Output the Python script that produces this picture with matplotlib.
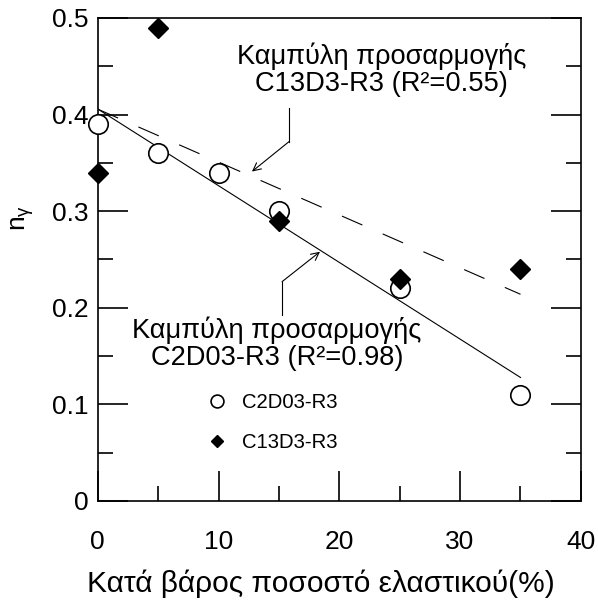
import numpy as np
import matplotlib
matplotlib.use("Agg")
import matplotlib.pyplot as plt

plt.rcParams["font.family"] = ["Liberation Sans", "DejaVu Sans"]
plt.rcParams["mathtext.fontset"] = "custom"
plt.rcParams["mathtext.rm"] = "Liberation Sans"
plt.rcParams["mathtext.it"] = "Liberation Sans"
plt.rcParams["lines.scale_dashes"] = False

# Rubber content (% by weight) and measured n_gamma
x_c2d03 = [0, 5, 10, 15, 25, 35]
n_c2d03 = [0.39, 0.36, 0.34, 0.30, 0.22, 0.11]
x_c13d3 = [0, 5, 15, 25, 35]
n_c13d3 = [0.34, 0.49, 0.29, 0.23, 0.24]

label_c2d03 = "C2D03-R3"
label_c13d3 = "C13D3-R3"
fit_text_c2d03 = "Καμπύλη προσαρμογής\nC2D03-R3 (R²=0.98)"
fit_text_c13d3 = "Καμπύλη προσαρμογής\nC13D3-R3 (R²=0.55)"
xlabel = "Κατά βάρος ποσοστό ελαστικού(%)"
ylabel = r"$\mathregular{n_γ}$"
x_ticks = [0, 10, 20, 30, 40]
y_ticks = [0, 0.1, 0.2, 0.3, 0.4, 0.5]
y_tick_labels = ["0", "0.1", "0.2", "0.3", "0.4", "0.5"]

fig = plt.figure(figsize=(5.98, 6.08), dpi=100)
ax = fig.add_axes([0.1634, 0.176, 0.808, 0.7945])

# Linear fits
p1 = np.polyfit(x_c2d03, n_c2d03, 1)
p2 = np.polyfit(x_c13d3, n_c13d3, 1)
xf = np.array([0, 35])
ax.plot(xf, np.polyval(p1, xf), color="black", lw=0.8, zorder=2)
ax.plot(xf, np.polyval(p2, xf), color="black", lw=0.8, dashes=(16, 16), zorder=2)

ax.plot(x_c2d03, n_c2d03, "o", ms=14, mfc="white", mec="black", mew=1.2,
        label=label_c2d03, zorder=3, clip_on=False)
ax.plot(x_c13d3, n_c13d3, "D", ms=10, mfc="black", mec="black",
        label=label_c13d3, zorder=4, clip_on=False)

# Fit annotations with bent leader arrows
arrow = dict(arrowstyle="->", color="black", lw=0.8, shrinkA=0, shrinkB=0,
             mutation_scale=14)
ax.plot([15.84, 15.84], [0.407, 0.372], color="black", lw=0.8)
ax.annotate("", xy=(12.77, 0.341), xytext=(15.84, 0.372), arrowprops=arrow)
ax.text(23.5, 0.446, fit_text_c13d3, ha="center", va="center", fontsize=19.6,
        linespacing=1.05)

ax.plot([15.26, 15.26], [0.193, 0.227], color="black", lw=0.8)
ax.annotate("", xy=(18.4, 0.258), xytext=(15.26, 0.227), arrowprops=arrow)
ax.text(14.85, 0.1625, fit_text_c2d03, ha="center", va="center", fontsize=19.6,
        linespacing=1.05)

leg = ax.legend(loc="center left", bbox_to_anchor=(0.19, 0.162), frameon=False,
                fontsize=14.6, markerscale=0.66, handlelength=0.9,
                handletextpad=0.8, labelspacing=1.05, numpoints=1)

ax.set_xlim(0, 40)
ax.set_ylim(0, 0.5)
ax.set_xticks(x_ticks)
ax.set_xticks(np.arange(5, 40, 10), minor=True)
ax.set_yticks(y_ticks)
ax.set_yticklabels(y_tick_labels)
ax.set_yticks(np.arange(0.05, 0.5, 0.1), minor=True)
ax.tick_params(which="both", direction="in", top=False, right=True, width=1.2,
               labelsize=19)
ax.tick_params(which="major", length=21.5)
ax.tick_params(which="minor", length=10.8)
ax.tick_params(axis="x", which="major", pad=21)
ax.tick_params(axis="y", which="major", pad=6.5)
for s in ax.spines.values():
    s.set_linewidth(1.2)

ax.set_xlabel(xlabel, fontsize=21.5)
ax.xaxis.set_label_coords(0.462, -0.141)
ax.set_ylabel(ylabel, fontsize=19, rotation=90)
ax.yaxis.set_label_coords(-0.127, 0.585)

fig.savefig("out.png", dpi=100)
